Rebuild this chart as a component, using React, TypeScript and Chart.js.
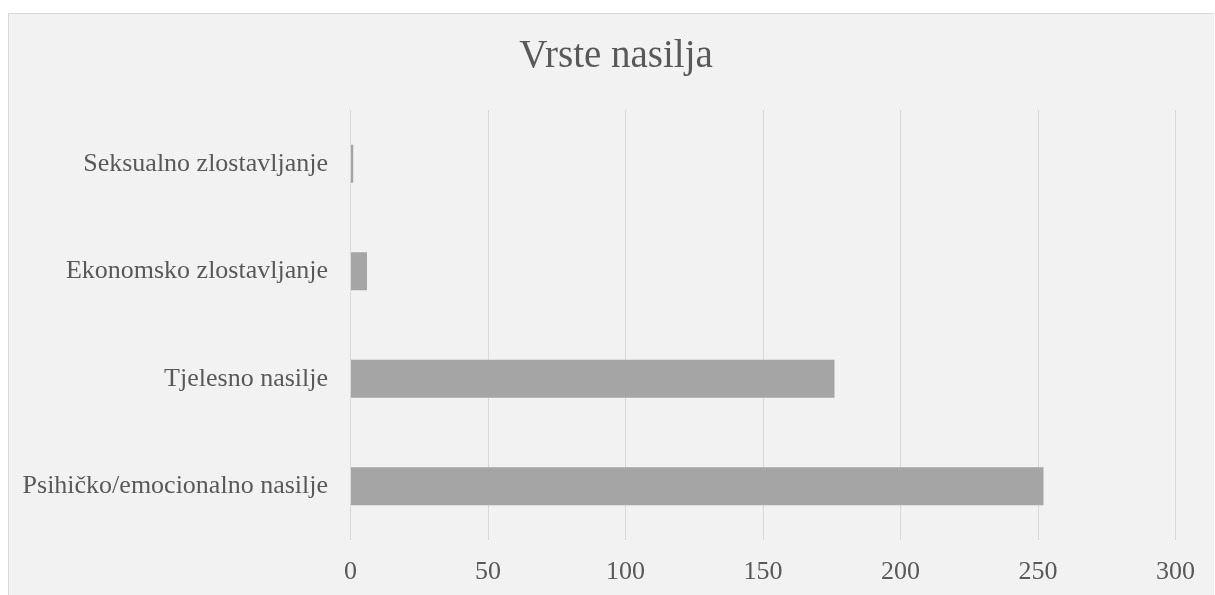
import React, { useEffect, useRef } from "react";
import { Chart, registerables } from "chart.js";

Chart.register(...registerables);

const categories = [
  "Seksualno zlostavljanje",
  "Ekonomsko zlostavljanje",
  "Tjelesno nasilje",
  "Psihičko/emocionalno nasilje",
];
const values = [1, 6, 176, 252];
const xTicks = [0, 50, 100, 150, 200, 250, 300];
const titleText = "Vrste nasilja";

const FONT = "'Liberation Serif', 'Times New Roman', serif";
const TEXT = "#595959";
const GRID = "#d9d9d9";

export default function App() {
  const ref = useRef<HTMLCanvasElement | null>(null);
  useEffect(() => {
    if (!ref.current) return;
    const chart = new Chart(ref.current, {
      type: "bar",
      data: {
        labels: categories,
        datasets: [
          {
            data: values,
            backgroundColor: "#a5a5a5",
            borderWidth: 0,
            categoryPercentage: 1,
            barPercentage: 0.353,
          },
        ],
      },
      options: {
        indexAxis: "y",
        responsive: false,
        animation: false,
        layout: { padding: { left: 9, right: 0, top: 0, bottom: 0 } },
        plugins: {
          legend: { display: false },
          tooltip: { enabled: false },
          title: {
            display: true,
            text: titleText,
            color: TEXT,
            font: { family: FONT, size: 39, weight: "normal" },
            padding: { top: 19, bottom: 30.2 },
          },
        },
        scales: {
          x: {
            min: 0,
            max: 300,
            afterBuildTicks: (s: any) => {
              s.ticks = xTicks.map((v) => ({ value: v }));
            },
            afterFit: (s: any) => {
              s.height = 55;
            },
            grid: { color: GRID, lineWidth: 1, drawTicks: false },
            border: { display: false },
            ticks: {
              color: TEXT,
              font: { family: FONT, size: 26 },
              padding: 17,
              maxRotation: 0,
            },
          },
          y: {
            afterFit: (s: any) => {
              s.width = 332.5;
            },
            grid: { display: false, drawTicks: false },
            border: { display: false },
            ticks: {
              color: TEXT,
              font: { family: FONT, size: 26 },
              padding: 22.5,
            },
          },
          yRight: {
            type: "category",
            axis: "y",
            position: "right",
            afterFit: (s: any) => {
              s.width = 38.5;
            },
            grid: { display: false, drawTicks: false },
            border: { display: false },
            ticks: { display: false },
          },
        },
      },
    });
    return () => chart.destroy();
  }, []);

  return (
    <div
      style={{
        position: "absolute",
        left: 8,
        top: 13,
        width: 1205,
        height: 581,
        borderTop: `1px solid ${GRID}`,
        borderLeft: `1px solid ${GRID}`,
        background: "#f2f2f2",
      }}
    >
      <canvas ref={ref} width={1205} height={581} style={{ display: "block" }} />
    </div>
  );
}
